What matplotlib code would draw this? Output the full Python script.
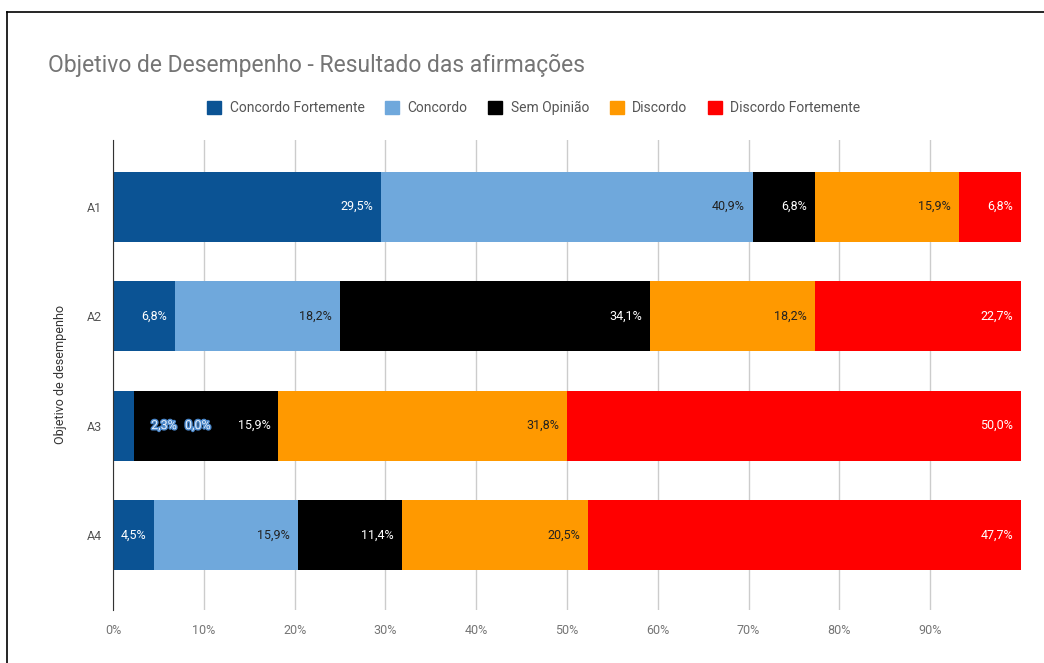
import numpy as np
import matplotlib
matplotlib.use("Agg")
import matplotlib.pyplot as plt
import matplotlib.patheffects as pe
from matplotlib.lines import Line2D
from matplotlib.patches import Patch

plt.rcParams["font.family"] = ["Roboto", "DejaVu Sans"]

# Data
categories = ["A1", "A2", "A3", "A4"]
series = ["Concordo Fortemente", "Concordo", "Sem Opinião", "Discordo", "Discordo Fortemente"]
concordo_fortemente = [29.5, 6.8, 2.3, 4.5]
concordo = [40.9, 18.2, 0.0, 15.9]
sem_opiniao = [6.8, 34.1, 15.9, 11.4]
discordo = [15.9, 18.2, 31.8, 20.5]
discordo_fortemente = [6.8, 22.7, 50.0, 47.7]
tick_labels = ["0%", "10%", "20%", "30%", "40%", "50%", "60%", "70%", "80%", "90%"]

colors = ["#0b5394", "#6fa8dc", "#000000", "#ff9900", "#ff0000"]
text_colors = ["white", "#222222", "white", "#222222", "white"]

values = np.array([concordo_fortemente, concordo, sem_opiniao, discordo, discordo_fortemente])
totals = values.sum(axis=0)
shares = values / totals * 100

fig = plt.figure(figsize=(10.44, 6.63), dpi=100)
ax = fig.add_axes([113 / 1044, 1 - 610 / 663, (1021 - 113) / 1044, 470 / 663])

y = np.arange(len(categories))
left = np.zeros(len(categories))
for i, name in enumerate(series):
    ax.barh(y, shares[i], left=left, height=0.64, color=colors[i], label=name, zorder=2)
    for j in range(len(categories)):
        end = left[j] + shares[i][j]
        label = f"{values[i][j]:.1f}%".replace(".", ",")
        if shares[i][j] >= 4:
            ax.annotate(label, (end, y[j]), xytext=(-8, 0), textcoords="offset pixels",
                        ha="right", va="center", fontsize=9, color=text_colors[i], zorder=3)
        else:
            # label does not fit: drawn outside with an outline
            ax.annotate(label, (end, y[j]), xytext=(43 if i == 0 else 77, 0),
                        textcoords="offset pixels", ha="right", va="center",
                        fontsize=9, color="#e8f0fa", zorder=3,
                        path_effects=[pe.withStroke(linewidth=2, foreground="#4a86c8")])
    left += shares[i]

ax.set_xlim(0, 100)
ax.set_ylim(3.685, -0.61)
ax.set_xticks(np.arange(0, 100, 10))
ax.set_xticklabels(tick_labels)
ax.set_yticks(y)
ax.set_yticklabels(categories)
ax.tick_params(length=0, labelsize=9, colors="#757575", pad=10)
ax.tick_params(axis="y", pad=8, colors="#555555")
ax.grid(axis="x", color="#cccccc", linewidth=1, zorder=0)
for s in ["top", "right", "bottom"]:
    ax.spines[s].set_visible(False)
ax.spines["left"].set_color("#333333")
ax.spines["left"].set_zorder(4)
ax.set_ylabel("Objetivo de desempenho", fontsize=9, color="#333333", labelpad=14)

fig.text(48 / 1044, 1 - 65 / 663, "Objetivo de Desempenho - Resultado das afirmações",
         fontsize=16.5, color="#757575", va="center", ha="left")

handles = [Patch(facecolor=c, edgecolor=c) for c in colors]
fig.legend(handles, series, loc="center", bbox_to_anchor=(534 / 1044, 1 - 108 / 663), ncol=5,
           frameon=False, fontsize=10, labelcolor="#555555", handlelength=1.0, handleheight=1.0,
           handletextpad=0.6, columnspacing=1.5)

# border of the chart frame
fig.add_artist(Line2D([7 / 1044, 1], [1 - 12 / 663, 1 - 12 / 663], color="black", linewidth=1.2))
fig.add_artist(Line2D([7 / 1044, 7 / 1044], [0, 1 - 12 / 663], color="black", linewidth=1.2))

fig.savefig("out.png", dpi=100)
